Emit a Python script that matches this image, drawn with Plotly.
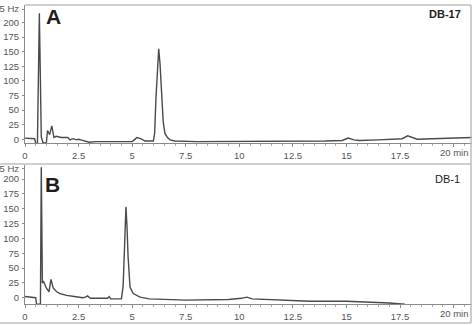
import plotly.graph_objects as go

# ---- data ----
time_A = [0, 0.45, 0.5, 0.58, 0.67, 0.76, 0.83, 0.93, 1.0, 1.05, 1.15, 1.25, 1.35, 1.45, 1.7, 2.0, 2.1,
          2.25, 2.4, 2.5, 2.6, 2.8, 3.0, 3.3, 3.6, 4.0, 4.5, 5.0, 5.1, 5.22, 5.4, 5.6, 5.99, 6.05,
          6.11, 6.18, 6.24, 6.3, 6.38, 6.45, 6.53, 6.65, 6.77, 7.0, 8.0, 10.0, 12.5, 14.0, 14.8,
          15.08, 15.35, 15.6, 16.5, 17.2, 17.6, 17.86, 18.05, 18.3, 19.0, 20.0, 20.86]
signal_A = [2, 1, -7, -7, 216, 4, -5, -7, -5, 15, 8, 23, 3, 5, 3, 3, -1,
            1, -1, 0, -1, -3, -5, -4, -4, -5, -5, -4, -1, 3, 1, -3, -3, 10,
            70, 130, 155, 130, 78, 30, 10, 3, -1, -3, -4, -4, -3, -3, -2,
            2, -1, -2, -1, 0, 1, 6, 3, 0, 1, 2, 3]

time_B = [0, 0.45, 0.5, 0.54, 0.72, 0.76, 0.81, 0.87, 1.0, 1.12, 1.21, 1.32, 1.48, 1.63, 1.94, 2.3,
          2.7, 2.82, 2.92, 3.05, 3.5, 3.85, 3.93, 4.0, 4.5, 4.58, 4.65, 4.71, 4.76, 4.81, 4.9,
          5.05, 5.37, 5.8, 7.5, 9.5, 10.1, 10.35, 10.6, 12.5, 13.3, 15.0, 16.0, 17.0, 17.73]
signal_B = [2, 1, 0, -11, -11, 220, 25, 27, 16, 10, 31, 16, 10, 7, 4, 2,
            0, 1, 3, -1, -1, -1, 2, -2, -2, 20, 90, 153, 120, 70, 18,
            7, 1, -2, -4, -3, -1, 1, -2, -5, -6, -6, -7, -9, -11]

x_tickvals = [0, 2.5, 5, 7.5, 10, 12.5, 15, 17.5, 20]
x_ticktext = ["0", "2.5", "5", "7.5", "10", "12.5", "15", "17.5", ""]
x_last_label = "20 min"
y_tickvals_A = [0, 25, 50, 75, 100, 125, 150, 175, 200, 223]
y_tickvals_B = [0, 25, 50, 75, 100, 125, 150, 175, 200, 217]
y_ticktext = ["0", "25", "50", "75", "100", "125", "150", "175", "200", "5 Hz"]
panel_labels = ["A", "B"]
column_labels = ["DB-17", "DB-1"]

W, H = 472, 325
FONT = "Liberation Sans, Arial, sans-serif"
AX = "#8a8a8a"
TXT = "#555555"
FS = 9.5


def py(p):
    return (H - p) / H


def px(p):
    return p / W


fig = go.Figure()
fig.add_trace(go.Scatter(x=time_A, y=signal_A, mode="lines", xaxis="x", yaxis="y",
                         line=dict(color="#4a4a4a", width=1.4), showlegend=False, hoverinfo="skip"))
fig.add_trace(go.Scatter(x=time_B, y=signal_B, mode="lines", xaxis="x2", yaxis="y2",
                         line=dict(color="#4a4a4a", width=1.4), showlegend=False, hoverinfo="skip"))

xcommon = dict(range=[0, 20.86], tickvals=x_tickvals, ticktext=x_ticktext, showgrid=False,
               zeroline=False, showline=True, linecolor=AX, linewidth=1, ticks="outside",
               ticklen=3, tickcolor=AX, tickfont=dict(family=FONT, size=FS, color=TXT),
               minor=dict(dtick=0.5, tick0=0, ticks="outside", ticklen=2, tickcolor="#aaaaaa"),
               domain=[px(25), 1], fixedrange=True, automargin=False)
ycommon = dict(showgrid=False, zeroline=False, showline=True, linecolor=AX, linewidth=1,
               ticks="outside", ticklen=2, tickcolor=AX, ticktext=y_ticktext,
               tickfont=dict(family=FONT, size=FS, color=TXT), ticklabelstandoff=1,
               fixedrange=True, automargin=False)

fig.update_layout(
    template="none",
    width=W, height=H, margin=dict(l=0, r=0, t=0, b=0, autoexpand=False),
    paper_bgcolor="white", plot_bgcolor="white",
    xaxis=dict(anchor="y", **xcommon),
    xaxis2=dict(anchor="y2", **xcommon),
    yaxis=dict(anchor="x", range=[-6.9, 230], tickvals=y_tickvals_A,
               domain=[py(143.3), py(5)], **ycommon),
    yaxis2=dict(anchor="x2", range=[-11.1, 223.6], tickvals=y_tickvals_B,
                domain=[py(304.3), py(165)], **ycommon),
)

# frame lines
shapes = [
    dict(type="line", xref="paper", yref="paper", x0=px(25), x1=px(471), y0=py(5), y1=py(5),
         line=dict(color="#cfcfcf", width=2)),
    dict(type="line", xref="paper", yref="paper", x0=0, x1=px(471), y0=py(164), y1=py(164),
         line=dict(color="#cfcfcf", width=2)),
    dict(type="line", xref="paper", yref="paper", x0=0, x1=px(471), y0=py(323), y1=py(323),
         line=dict(color="#cfcfcf", width=2)),
    dict(type="line", xref="paper", yref="paper", x0=px(471), x1=px(471), y0=py(5), y1=py(323),
         line=dict(color="#bdbdbd", width=1.5)),
]
fig.update_layout(shapes=shapes)

ann = []
for lab, (cx, cy) in zip(panel_labels, [(53, 17), (52, 184)]):
    ann.append(dict(text=f"<b>{lab}</b>", x=px(cx), y=py(cy), xref="paper", yref="paper",
                    showarrow=False, xanchor="center", yanchor="middle",
                    font=dict(family="Liberation Sans, Arial, sans-serif", size=21, color="#1e1e1e")))
ann.append(dict(text=f"<b>{column_labels[0]}</b>", x=px(463), y=py(14), xref="paper", yref="paper",
                showarrow=False, xanchor="right", yanchor="middle",
                font=dict(family="Liberation Sans, Arial, sans-serif", size=11, color="#222")))
ann.append(dict(text=column_labels[1], x=px(462), y=py(179), xref="paper", yref="paper",
                showarrow=False, xanchor="right", yanchor="middle",
                font=dict(family="Liberation Sans, Arial, sans-serif", size=11, color="#222")))
for ax_name, yy in [("x", 152.5), ("x2", 313.5)]:
    ann.append(dict(text=x_last_label, x=px(470), y=py(yy), xref="paper", yref="paper",
                    showarrow=False, xanchor="right", yanchor="middle", borderpad=0,
                    font=dict(family=FONT, size=FS, color=TXT)))
fig.update_layout(annotations=ann)

fig.write_html("out.html")
